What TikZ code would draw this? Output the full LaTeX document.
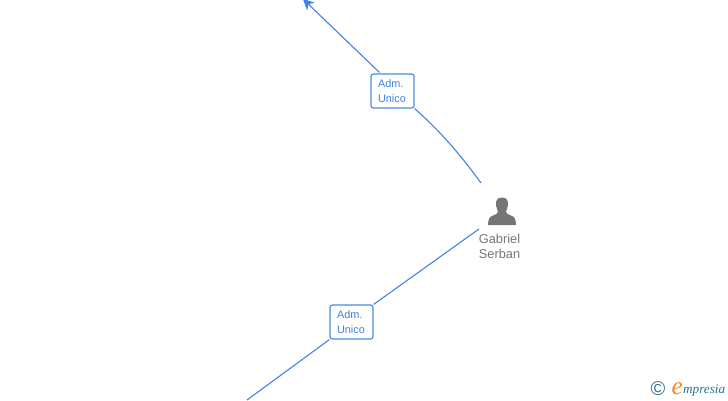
\documentclass[tikz,border=0pt]{standalone}
\usepackage{fontspec}
\setmainfont{Liberation Sans}
\newfontfamily\logofont{Liberation Serif}
\usetikzlibrary{arrows.meta}
\definecolor{linkblue}{HTML}{3F83E6}
\definecolor{boxblue}{HTML}{4A8BE0}
\definecolor{persongray}{HTML}{757575}
\definecolor{logoteal}{HTML}{2F7391}
\definecolor{logoorange}{HTML}{F08A1D}
\tikzset{
  px/.style={x=1pt,y=-1pt},
  link/.style={draw=linkblue,line width=1.1pt},
  rolebox/.style={draw=boxblue,line width=1.2pt,rounded corners=2.5pt,fill=white,minimum width=43pt,minimum height=34pt,inner sep=0pt,inner xsep=7pt,align=left,text=linkblue,font=\fontsize{10.9}{15}\selectfont,text width=29pt},
  personname/.style={align=center,text=persongray,font=\fontsize{12.8}{15}\selectfont,inner sep=0pt}
}
\begin{document}
\begin{tikzpicture}[px]
\useasboundingbox (0,0) rectangle (728,400);
\clip (0,0) rectangle (728,400);
\coordinate (topend) at (303,-1);
\coordinate (personup) at (481,183);
\coordinate (persondown) at (479,229);
\coordinate (bottomend) at (247,400);
\node[rolebox] (box1) at (392.5,91) {Adm.\\Unico};
\node[rolebox] (box2) at (351.5,322) {Adm.\\Unico};
\draw[link] (personup) .. controls (460,154) and (439,130) .. (box1.south east);
\draw[link,-{Stealth[length=11pt,width=11pt]}] (box1.north west) ++(9,-1) -- (topend);
\draw[link] (persondown) -- (box2.north east);
\draw[link] (box2.south west) -- (bottomend);
% person icon
\fill[persongray] (502,197.5) .. controls (497,197.5) and (495.5,201) .. (496,205)
  .. controls (496.3,208) and (497.5,210) .. (498,211.5)
  .. controls (498,213.5) and (496,214.5) .. (493,215.5)
  .. controls (489.5,216.8) and (488.3,218.5) .. (488,225)
  -- (516,225)
  .. controls (515.7,218.5) and (514.5,216.8) .. (511,215.5)
  .. controls (508,214.5) and (506,213.5) .. (506,211.5)
  .. controls (506.5,210) and (507.7,208) .. (508,205)
  .. controls (508.5,201) and (507,197.5) .. (502,197.5) -- cycle;
\node[personname] (gabriel) at (499.5,246.5) {Gabriel\\Serban};
% logo
\node[inner sep=0pt,text=logoteal] (copy) at (658,389) {\fontsize{20}{20}\selectfont ©};
\node[inner sep=0pt,text=logoorange,anchor=base west] (logoe) at (671.5,394.5) {\logofont\itshape\fontsize{25}{25}\selectfont e};
\node[inner sep=0pt,text=logoteal,anchor=base west] (logotext) at (683,393.5) {\logofont\itshape\fontsize{13.2}{14}\selectfont mpresia};
\end{tikzpicture}
\end{document}
